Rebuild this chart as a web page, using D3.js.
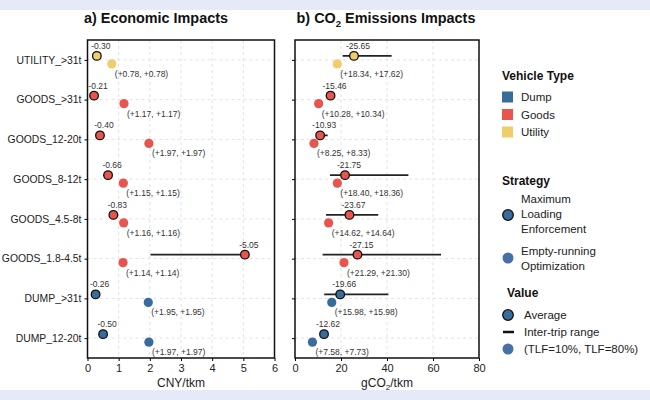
<!DOCTYPE html>
<html>
<head>
<meta charset="utf-8">
<script src="https://cdn.jsdelivr.net/npm/d3@7"></script>
<style>
body { margin: 0; background: #fff; }
text { font-family: "Liberation Sans", Arial, sans-serif; }
</style>
</head>
<body>
<svg id="chart" width="650" height="400"></svg>
<script>
// vehicle categories, top to bottom
var categories = ["UTILITY_>31t", "GOODS_>31t", "GOODS_12-20t", "GOODS_8-12t",
	"GOODS_4.5-8t", "GOODS_1.8-4.5t", "DUMP_>31t", "DUMP_12-20t"];
var vehicleType = ["Utility", "Goods", "Goods", "Goods", "Goods", "Goods", "Dump", "Dump"];

// economic impacts (CNY/tkm)
var ecoAvg = [0.30, 0.21, 0.40, 0.66, 0.83, 5.05, 0.26, 0.50];
var ecoLow = [0.30, 0.21, 0.40, 0.50, 0.83, 2.02, 0.26, 0.50];
var ecoHigh = [0.30, 0.21, 0.40, 0.66, 0.83, 5.05, 0.26, 0.50];
var ecoTlf10 = [0.78, 1.17, 1.97, 1.15, 1.16, 1.14, 1.95, 1.97];
var ecoTlf80 = [0.78, 1.17, 1.97, 1.15, 1.16, 1.14, 1.95, 1.97];

// CO2 emissions impacts (gCO2/tkm)
var co2Avg = [25.65, 15.46, 10.93, 21.75, 23.67, 27.15, 19.66, 12.62];
var co2Low = [20.7, 15.46, 10.0, 15.2, 13.5, 12.0, 12.7, 12.62];
var co2High = [42.0, 15.46, 14.2, 49.3, 36.2, 63.5, 40.6, 12.62];
var co2Tlf10 = [18.34, 10.28, 8.25, 18.40, 14.62, 21.29, 15.98, 7.58];
var co2Tlf80 = [17.62, 10.34, 8.33, 18.36, 14.64, 21.30, 15.98, 7.73];

var ecoTicks = [0, 1, 2, 3, 4, 5, 6];
var co2Ticks = [0, 20, 40, 60, 80];

var typeNames = ["Dump", "Goods", "Utility"];
var typeColors = ["#3a6b9d", "#e8554f", "#efcd6b"];
var color = d3.scaleOrdinal().domain(typeNames).range(typeColors);

var svg = d3.select("#chart");

// background bands
svg.append("rect").attr("x", 0).attr("y", 0).attr("width", 650).attr("height", 10).attr("fill", "#e6e9f7");
svg.append("rect").attr("x", 0).attr("y", 390).attr("width", 650).attr("height", 10).attr("fill", "#e6e9f7");

var plotTop = 40, plotBottom = 358;
var y = d3.scalePoint().domain(categories).range([plotTop, plotBottom]).padding(0.5);

var fmt = d3.format(".2f");
function plus(v) { return "+" + fmt(v); }

function drawPanel(opts) {
	var x = d3.scaleLinear().domain(opts.domain).range([opts.x0, opts.x1]);
	var g = svg.append("g");

	// grid
	g.selectAll(".vgrid").data(opts.ticks).enter().append("line")
		.attr("x1", function(d) { return x(d); }).attr("x2", function(d) { return x(d); })
		.attr("y1", plotTop).attr("y2", plotBottom)
		.attr("stroke", "#e2e2e2").attr("stroke-dasharray", "3,3");
	g.selectAll(".hgrid").data(categories).enter().append("line")
		.attr("x1", opts.x0).attr("x2", opts.x1)
		.attr("y1", function(d) { return y(d); }).attr("y2", function(d) { return y(d); })
		.attr("stroke", "#e2e2e2").attr("stroke-dasharray", "3,3");

	// axes
	var xa = g.append("g").attr("transform", "translate(0," + plotBottom + ")")
		.call(d3.axisBottom(x).tickValues(opts.ticks).tickFormat(d3.format("d")).tickSize(3).tickPadding(3));
	xa.select(".domain").remove();
	xa.selectAll("text").attr("font-size", 11).attr("fill", "#222");
	var ya = g.append("g").attr("transform", "translate(" + opts.x0 + ",0)")
		.call(d3.axisLeft(y).tickSize(3).tickPadding(3).tickFormat(opts.showLabels ? null : ""));
	ya.select(".domain").remove();
	ya.selectAll("text").attr("font-size", 10.4).attr("fill", "#222");

	var idx = d3.range(categories.length);

	// inter-trip range
	g.selectAll(".range").data(idx).enter().append("line")
		.attr("x1", function(i) { return x(opts.low[i]); })
		.attr("x2", function(i) { return x(opts.high[i]); })
		.attr("y1", function(i) { return y(categories[i]) - 4; })
		.attr("y2", function(i) { return y(categories[i]) - 4; })
		.attr("stroke", "#222").attr("stroke-width", 1.8);

	// empty-running optimization
	g.selectAll(".tlf").data(idx).enter().append("circle")
		.attr("cx", function(i) { return x(opts.tlf10[i]); })
		.attr("cy", function(i) { return y(categories[i]) + 4; })
		.attr("r", 4.6)
		.attr("fill", function(i) { return color(vehicleType[i]); });
	g.selectAll(".tlfLab").data(idx).enter().append("text")
		.attr("x", function(i) { return x(opts.tlf10[i]) + 3; })
		.attr("y", function(i) { return y(categories[i]) + 17; })
		.attr("font-size", 8.5).attr("fill", "#333")
		.text(function(i) { return "(" + plus(opts.tlf10[i]) + ", " + plus(opts.tlf80[i]) + ")"; });

	// maximum loading average
	g.selectAll(".avg").data(idx).enter().append("circle")
		.attr("cx", function(i) { return x(opts.avg[i]); })
		.attr("cy", function(i) { return y(categories[i]) - 4; })
		.attr("r", 4.3)
		.attr("fill", function(i) { return color(vehicleType[i]); })
		.attr("stroke", "#111").attr("stroke-width", 1.3);
	g.selectAll(".avgLab").data(idx).enter().append("text")
		.attr("x", function(i) { return x(opts.avg[i]) + 4; })
		.attr("y", function(i) { return y(categories[i]) - 11; })
		.attr("text-anchor", "middle")
		.attr("font-size", 8.5).attr("fill", "#333")
		.text(function(i) { return "-" + fmt(opts.avg[i]); });

	// frame
	g.append("rect").attr("x", opts.x0).attr("y", plotTop)
		.attr("width", opts.x1 - opts.x0).attr("height", plotBottom - plotTop)
		.attr("fill", "none").attr("stroke", "#111").attr("stroke-width", 1.5);

	// title
	var t = g.append("text").attr("x", opts.titleX).attr("y", 23)
		.attr("text-anchor", "middle").attr("font-size", 14.4).attr("font-weight", "bold").attr("fill", "#111");
	opts.title(t);

	var xt = g.append("text").attr("x", (opts.x0 + opts.x1) / 2).attr("y", 387)
		.attr("text-anchor", "middle").attr("font-size", 12).attr("fill", "#222");
	opts.xtitle(xt);
}

drawPanel({
	domain: [0, 6], ticks: ecoTicks, x0: 87.5, x1: 274.5, showLabels: true, titleX: 156,
	avg: ecoAvg, low: ecoLow, high: ecoHigh, tlf10: ecoTlf10, tlf80: ecoTlf80,
	title: function(t) { t.text("a) Economic Impacts"); },
	xtitle: function(t) { t.text("CNY/tkm"); }
});

drawPanel({
	domain: [0, 80], ticks: co2Ticks, x0: 295, x1: 479, showLabels: false, titleX: 386,
	avg: co2Avg, low: co2Low, high: co2High, tlf10: co2Tlf10, tlf80: co2Tlf80,
	title: function(t) {
		t.append("tspan").text("b) CO");
		t.append("tspan").attr("font-size", 9.5).attr("dy", 4).text("2");
		t.append("tspan").attr("dy", -4).text(" Emissions Impacts");
	},
	xtitle: function(t) {
		t.append("tspan").text("gCO");
		t.append("tspan").attr("font-size", 8).attr("dy", 3).text("2");
		t.append("tspan").attr("dy", -3).text("/tkm");
	}
});

// legend
var lg = svg.append("g").attr("transform", "translate(502,0)");
function head(txt, yy, dx) {
	lg.append("text").attr("x", dx || 0).attr("y", yy).attr("font-size", 12)
		.attr("font-weight", "bold").attr("fill", "#111").text(txt);
}
function label(txt, xx, yy) {
	lg.append("text").attr("x", xx).attr("y", yy).attr("font-size", 11.5).attr("fill", "#222").text(txt);
}

head("Vehicle Type", 80);
typeNames.forEach(function(n, i) {
	var yy = 97 + i * 17.5;
	lg.append("rect").attr("x", 0).attr("y", yy - 5.5).attr("width", 11).attr("height", 11).attr("fill", color(n));
	label(n, 19, yy + 4);
});

head("Strategy", 185);
["Maximum", "Loading", "Enforcement"].forEach(function(s, i) { label(s, 19, 203 + i * 15); });
lg.append("circle").attr("cx", 6).attr("cy", 215).attr("r", 5.3)
	.attr("fill", color("Dump")).attr("stroke", "#111").attr("stroke-width", 1.3);
["Empty-running", "Optimization"].forEach(function(s, i) { label(s, 19, 255 + i * 15); });
lg.append("circle").attr("cx", 6).attr("cy", 258).attr("r", 5.5).attr("fill", "#4670a6");

head("Value", 297, 5);
lg.append("circle").attr("cx", 6).attr("cy", 315).attr("r", 5.3)
	.attr("fill", color("Dump")).attr("stroke", "#111").attr("stroke-width", 1.3);
label("Average", 22, 319);
lg.append("line").attr("x1", 1).attr("x2", 12).attr("y1", 332).attr("y2", 332)
	.attr("stroke", "#111").attr("stroke-width", 2.5);
label("Inter-trip range", 22, 336);
lg.append("circle").attr("cx", 6).attr("cy", 349).attr("r", 5.5).attr("fill", "#4670a6");
label("(TLF=10%, TLF=80%)", 22, 353);
</script>
</body>
</html>
